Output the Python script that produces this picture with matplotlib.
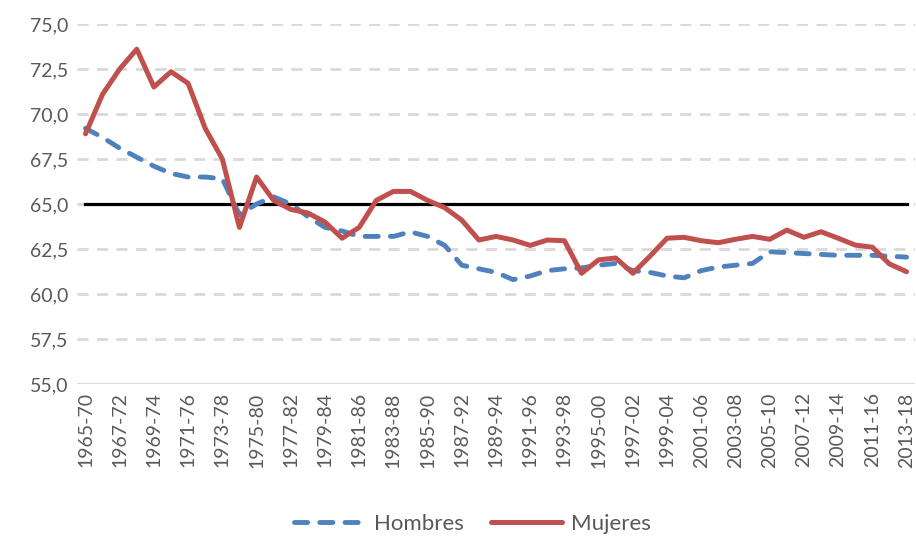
import matplotlib
matplotlib.use('Agg')
import matplotlib.pyplot as plt
from matplotlib.lines import Line2D

periods = ['%d-%02d' % (y, (y + 5) % 100) for y in range(1965, 2014)]

hombres = [69.2, 68.7, 68.1, 67.6, 67.1, 66.7, 66.5, 66.5, 66.4, 64.4,
           65.0, 65.4, 65.0, 64.3, 63.7, 63.5, 63.2, 63.2, 63.2, 63.45,
           63.2, 62.7, 61.6, 61.4, 61.2, 60.8, 61.0, 61.3, 61.4, 61.45,
           61.6, 61.7, 61.3, 61.2, 61.0, 60.9, 61.3, 61.5, 61.6, 61.7,
           62.35, 62.3, 62.25, 62.2, 62.15, 62.15, 62.15, 62.1, 62.05]

mujeres = [68.9, 71.1, 72.5, 73.6, 71.5, 72.35, 71.7, 69.2, 67.5, 63.7,
           66.5, 65.2, 64.7, 64.5, 64.0, 63.1, 63.7, 65.2, 65.7, 65.7,
           65.2, 64.8, 64.1, 63.0, 63.2, 63.0, 62.7, 63.0, 62.96, 61.15,
           61.9, 62.0, 61.15, 62.1, 63.1, 63.15, 62.96, 62.85, 63.04, 63.2,
           63.04, 63.55, 63.15, 63.46, 63.1, 62.72, 62.6, 61.67, 61.24]

referencia = [65.0] * len(periods)

yticks = [55, 57.5, 60, 62.5, 65, 67.5, 70, 72.5, 75]

plt.rcParams['font.family'] = ['Lato', 'DejaVu Sans']
txt = '#595959'
dash = (0, (2.7, 2.5))

fig = plt.figure(figsize=(9.16, 5.38), dpi=100)
ax = fig.add_axes([0.084, 0.2862, 0.915, 0.6692])

x = list(range(len(periods)))
for v in yticks[1:]:
    ax.axhline(v, color='#D9D9D9', lw=2, ls=(0, (4, 3)), zorder=0)
ax.axhline(55, color='#D9D9D9', lw=1.5, zorder=0)

ax.plot(x, referencia, color='black', lw=2.3, zorder=2)
ax.plot(x, hombres, color='#4F81BD', lw=3.5, ls=dash,
        dash_capstyle='round', zorder=3)
ax.plot(x, mujeres, color='#C0504D', lw=3.6, solid_capstyle='round', zorder=4)

ax.set_xlim(-0.5, len(periods) - 0.5)
ax.set_ylim(55, 75)
ax.set_yticks(yticks)
ax.set_yticklabels([('%.1f' % v).replace('.', ',') for v in yticks],
                   fontsize=14, color=txt)
ax.set_xticks(x[::2])
ax.set_xticklabels(periods[::2], rotation=90, fontsize=14, color=txt)
ax.tick_params(length=0, pad=6)
for s in ax.spines.values():
    s.set_visible(False)

handles = [Line2D([], [], color='#4F81BD', lw=3.5, ls=dash, dash_capstyle='round'),
           Line2D([], [], color='#C0504D', lw=3.6, solid_capstyle='round')]
fig.legend(handles, ['Hombres', 'Mujeres'], loc='center', bbox_to_anchor=(0.516, 0.026),
           ncol=2, frameon=False, fontsize=16, handlelength=3.2, handletextpad=0.4,
           columnspacing=1.2, labelcolor=txt)

fig.savefig('out.png', dpi=100)
